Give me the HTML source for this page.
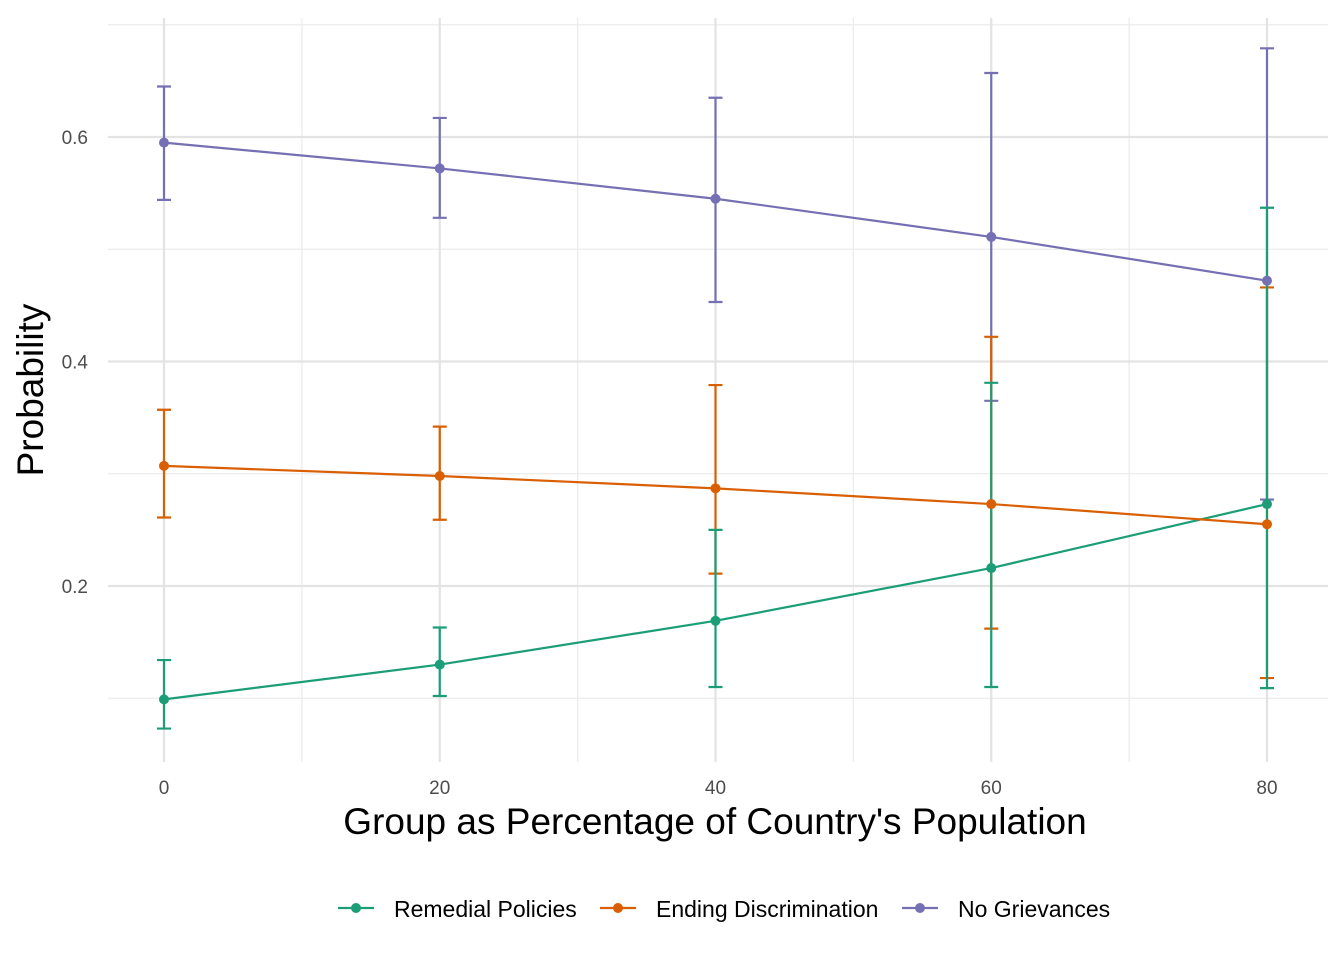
<!DOCTYPE html>
<html><head><meta charset="utf-8"><style>
body{margin:0;background:#fff;font-family:"Liberation Sans",Arial,sans-serif}
</style></head><body>
<svg id="chart" width="1344" height="960" xmlns="http://www.w3.org/2000/svg">
<g id="grid"></g>
<g id="series"></g>
<g id="axes"></g>
<text x="715" y="834" font-size="37" text-anchor="middle" fill="#000">Group as Percentage of Country's Population</text>
<text transform="translate(43,390) rotate(-90)" font-size="37" text-anchor="middle" fill="#000">Probability</text>
<g id="legend"></g>
</svg>
<script>
const xs=[0,20,40,60,80];
const seriesNames=["Remedial Policies","Ending Discrimination","No Grievances"];
const colors=["#1B9E77","#D95F02","#7570B3"];
const remedial=[0.099,0.130,0.169,0.216,0.273];
const remedialLo=[0.073,0.102,0.110,0.110,0.109];
const remedialHi=[0.134,0.163,0.250,0.381,0.537];
const ending=[0.307,0.298,0.287,0.273,0.255];
const endingLo=[0.261,0.259,0.211,0.162,0.118];
const endingHi=[0.357,0.342,0.379,0.422,0.466];
const nogriev=[0.595,0.572,0.545,0.511,0.472];
const nogrievLo=[0.544,0.528,0.453,0.365,0.277];
const nogrievHi=[0.645,0.617,0.635,0.657,0.679];
const xTicks=[0,20,40,60,80];
const xMinor=[10,30,50,70];
const yTicks=[0.2,0.4,0.6];
const yMinor=[0.1,0.3,0.5,0.7];
const NS="http://www.w3.org/2000/svg";
const X=v=>164+v*(1267-164)/80;
const Y=v=>137+(0.6-v)*1122.5;
function mk(t,a,p){const e=document.createElementNS(NS,t);for(const k in a)e.setAttribute(k,a[k]);p.appendChild(e);return e;}
const grid=document.getElementById('grid'),axes=document.getElementById('axes'),ser=document.getElementById('series'),leg=document.getElementById('legend');
const L=108,R=1328,T=18,B=762;
yMinor.forEach(v=>{const e=mk('line',{x1:L,x2:R,y1:Y(v),y2:Y(v),stroke:'#ebebeb','stroke-width':1.2},grid);});
xMinor.forEach(v=>{const e=mk('line',{x1:X(v),x2:X(v),y1:T,y2:B,stroke:'#ebebeb','stroke-width':1.2},grid);});
yTicks.forEach(v=>{const e=mk('line',{x1:L,x2:R,y1:Y(v),y2:Y(v),stroke:'#e3e3e3','stroke-width':2.2},grid);
const t=mk('text',{x:88,y:Y(v)+7,'font-size':19,'text-anchor':'end',fill:'#4d4d4d'},axes);t.textContent=v.toFixed(1);});
xTicks.forEach(v=>{const e=mk('line',{x1:X(v),x2:X(v),y1:T,y2:B,stroke:'#e3e3e3','stroke-width':2.2},grid);
const t=mk('text',{x:X(v),y:794,'font-size':19,'text-anchor':'middle',fill:'#4d4d4d'},axes);t.textContent=v;});
const data=[[remedial,remedialLo,remedialHi],[ending,endingLo,endingHi],[nogriev,nogrievLo,nogrievHi]];
const lineG=mk('g',{},ser),ebG=mk('g',{},ser),ptG=mk('g',{},ser);
data.forEach((d,i)=>{const c=colors[i];
const ln=mk('polyline',{points:d[0].map((v,j)=>X(xs[j])+','+Y(v)).join(' '),stroke:c,'stroke-width':2.2,fill:'none'},lineG);
d[0].forEach((v,j)=>{const p=mk('circle',{cx:X(xs[j]),cy:Y(v),r:5,fill:c},ptG);});});
[2,1,0].forEach(i=>{const d=data[i],c=colors[i];
d[0].forEach((v,j)=>{const x=X(xs[j]);const eb=mk('path',{d:`M${x-7},${Y(d[2][j])}H${x+7}M${x},${Y(d[2][j])}V${Y(d[1][j])}M${x-7},${Y(d[1][j])}H${x+7}`,stroke:c,'stroke-width':2.2,fill:'none'},ebG);});});
const lx=[338,600,902];
seriesNames.forEach((n,i)=>{const g=mk('g',{},leg);
mk('line',{x1:lx[i],x2:lx[i]+36,y1:908,y2:908,stroke:colors[i],'stroke-width':2.2},g);mk('circle',{cx:lx[i]+18,cy:908,r:5,fill:colors[i]},g);
const t=mk('text',{x:lx[i]+56,y:917,'font-size':23,fill:'#000'},g);t.textContent=n;});
</script>
</body></html>
